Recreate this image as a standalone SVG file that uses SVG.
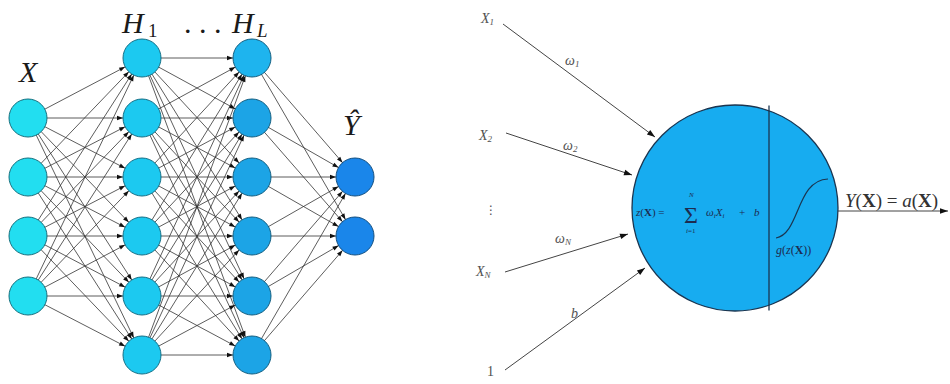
<svg xmlns="http://www.w3.org/2000/svg" width="950" height="384" viewBox="0 0 950 384">
<style>
.e line{stroke:#333;stroke-width:0.8;marker-end:url(#ah)}
.nx{fill:#22def0;stroke:#17707e;stroke-width:1}
.nh1{fill:#1cc9f0;stroke:#156f86;stroke-width:1}
.nhl{fill:#1ca4e6;stroke:#135e80;stroke-width:1}
.no{fill:#1a86ea;stroke:#134f80;stroke-width:1}
.big{font-family:"Liberation Serif","DejaVu Serif",serif;font-style:italic;font-size:30px;fill:#1a1a1a}
.sub{font-family:"Liberation Serif","DejaVu Serif",serif;font-size:19px;fill:#1a1a1a}
.lab{font-family:"Liberation Serif","DejaVu Serif",serif;font-style:italic;font-size:14px;fill:#505050}
.labs{font-family:"Liberation Serif","DejaVu Serif",serif;font-size:9px;fill:#505050}
.m{font-family:"Liberation Serif","DejaVu Serif",serif;font-size:11px;fill:#1d2b4f}
.ar line{stroke:#444;stroke-width:1;marker-end:url(#ar)}
</style>
<defs>
<marker id="ah" markerUnits="userSpaceOnUse" markerWidth="10" markerHeight="10" refX="19" refY="0" orient="auto" overflow="visible">
<path d="M0,0 L-6,-2.2 L-6,2.2 Z" fill="#111"/>
</marker>
<marker id="ar" markerUnits="userSpaceOnUse" markerWidth="10" markerHeight="10" refX="0" refY="0" orient="auto" overflow="visible">
<path d="M0,0 L-8,-2.8 L-8,2.8 Z" fill="#111"/>
</marker>
</defs>
<rect width="950" height="384" fill="#fff"/>
<g id="connectors">
<g class="e">
<line x1="28" y1="118" x2="142" y2="58"/><line x1="28" y1="118" x2="142" y2="118"/><line x1="28" y1="118" x2="142" y2="177"/><line x1="28" y1="118" x2="142" y2="236"/><line x1="28" y1="118" x2="142" y2="296"/><line x1="28" y1="118" x2="142" y2="355"/>
<line x1="28" y1="177" x2="142" y2="58"/><line x1="28" y1="177" x2="142" y2="118"/><line x1="28" y1="177" x2="142" y2="177"/><line x1="28" y1="177" x2="142" y2="236"/><line x1="28" y1="177" x2="142" y2="296"/><line x1="28" y1="177" x2="142" y2="355"/>
<line x1="28" y1="236" x2="142" y2="58"/><line x1="28" y1="236" x2="142" y2="118"/><line x1="28" y1="236" x2="142" y2="177"/><line x1="28" y1="236" x2="142" y2="236"/><line x1="28" y1="236" x2="142" y2="296"/><line x1="28" y1="236" x2="142" y2="355"/>
<line x1="28" y1="296" x2="142" y2="58"/><line x1="28" y1="296" x2="142" y2="118"/><line x1="28" y1="296" x2="142" y2="177"/><line x1="28" y1="296" x2="142" y2="236"/><line x1="28" y1="296" x2="142" y2="296"/><line x1="28" y1="296" x2="142" y2="355"/>
<line x1="142" y1="58" x2="252" y2="58"/><line x1="142" y1="58" x2="252" y2="118"/><line x1="142" y1="58" x2="252" y2="177"/><line x1="142" y1="58" x2="252" y2="236"/><line x1="142" y1="58" x2="252" y2="296"/><line x1="142" y1="58" x2="252" y2="355"/>
<line x1="142" y1="118" x2="252" y2="58"/><line x1="142" y1="118" x2="252" y2="118"/><line x1="142" y1="118" x2="252" y2="177"/><line x1="142" y1="118" x2="252" y2="236"/><line x1="142" y1="118" x2="252" y2="296"/><line x1="142" y1="118" x2="252" y2="355"/>
<line x1="142" y1="177" x2="252" y2="58"/><line x1="142" y1="177" x2="252" y2="118"/><line x1="142" y1="177" x2="252" y2="177"/><line x1="142" y1="177" x2="252" y2="236"/><line x1="142" y1="177" x2="252" y2="296"/><line x1="142" y1="177" x2="252" y2="355"/>
<line x1="142" y1="236" x2="252" y2="58"/><line x1="142" y1="236" x2="252" y2="118"/><line x1="142" y1="236" x2="252" y2="177"/><line x1="142" y1="236" x2="252" y2="236"/><line x1="142" y1="236" x2="252" y2="296"/><line x1="142" y1="236" x2="252" y2="355"/>
<line x1="142" y1="296" x2="252" y2="58"/><line x1="142" y1="296" x2="252" y2="118"/><line x1="142" y1="296" x2="252" y2="177"/><line x1="142" y1="296" x2="252" y2="236"/><line x1="142" y1="296" x2="252" y2="296"/><line x1="142" y1="296" x2="252" y2="355"/>
<line x1="142" y1="355" x2="252" y2="58"/><line x1="142" y1="355" x2="252" y2="118"/><line x1="142" y1="355" x2="252" y2="177"/><line x1="142" y1="355" x2="252" y2="236"/><line x1="142" y1="355" x2="252" y2="296"/><line x1="142" y1="355" x2="252" y2="355"/>
<line x1="252" y1="58" x2="355" y2="177"/><line x1="252" y1="58" x2="355" y2="236"/>
<line x1="252" y1="118" x2="355" y2="177"/><line x1="252" y1="118" x2="355" y2="236"/>
<line x1="252" y1="177" x2="355" y2="177"/><line x1="252" y1="177" x2="355" y2="236"/>
<line x1="252" y1="236" x2="355" y2="177"/><line x1="252" y1="236" x2="355" y2="236"/>
<line x1="252" y1="296" x2="355" y2="177"/><line x1="252" y1="296" x2="355" y2="236"/>
<line x1="252" y1="355" x2="355" y2="177"/><line x1="252" y1="355" x2="355" y2="236"/>
</g>
<g class="ar">
<line x1="503" y1="24" x2="655" y2="137"/>
<line x1="506" y1="133" x2="632" y2="175"/>
<line x1="505" y1="272" x2="628" y2="234"/>
<line x1="505" y1="370" x2="645" y2="268"/>
<line x1="838" y1="211" x2="948" y2="211"/>
</g>
</g>
<g id="input-layer">
<circle class="nx" cx="28" cy="118" r="19"/><circle class="nx" cx="28" cy="177" r="19"/><circle class="nx" cx="28" cy="236" r="19"/><circle class="nx" cx="28" cy="296" r="19"/>
</g>
<g id="hidden-1">
<circle class="nh1" cx="142" cy="58" r="19"/><circle class="nh1" cx="142" cy="118" r="19"/><circle class="nh1" cx="142" cy="177" r="19"/><circle class="nh1" cx="142" cy="236" r="19"/><circle class="nh1" cx="142" cy="296" r="19"/><circle class="nh1" cx="142" cy="355" r="19"/>
</g>
<g id="hidden-L">
<circle class="nhl" cx="252" cy="58" r="19" style="fill:#1eb4ee"/><circle class="nhl" cx="252" cy="118" r="19"/><circle class="nhl" cx="252" cy="177" r="19"/><circle class="nhl" cx="252" cy="236" r="19"/><circle class="nhl" cx="252" cy="296" r="19"/><circle class="nhl" cx="252" cy="355" r="19"/>
</g>
<g id="output-layer">
<circle class="no" cx="355" cy="177" r="19"/><circle class="no" cx="355" cy="236" r="19"/>
</g>
<g id="layer-labels">
<text class="big" x="19" y="82">X</text>
<text class="big" x="122" y="33">H</text><text class="sub" x="148" y="37">1</text>
<text class="big" x="184" y="33" style="font-style:normal">. . .</text>
<text class="big" x="232" y="33">H</text><text class="sub" x="257" y="37" style="font-style:italic">L</text>
<text class="big" x="343" y="135">Ŷ</text>
</g>
<g id="inputs">
<text class="lab" x="481" y="23">X<tspan class="labs" dy="2">1</tspan></text>
<text class="lab" x="479" y="140">X<tspan class="labs" dy="2">2</tspan></text>
<text class="lab" x="485" y="214" style="font-style:normal;font-family:'DejaVu Sans',sans-serif;font-size:12px">⋮</text>
<text class="lab" x="476" y="276">X<tspan class="labs" dy="2" style="font-style:italic">N</tspan></text>
<text class="lab" x="487" y="376" style="font-style:normal">1</text>
<text class="lab" x="565" y="65">ω<tspan class="labs" dy="2">1</tspan></text>
<text class="lab" x="563" y="150">ω<tspan class="labs" dy="2">2</tspan></text>
<text class="lab" x="555" y="243">ω<tspan class="labs" dy="2" style="font-style:italic">N</tspan></text>
<text class="lab" x="571" y="318">b</text>
</g>
<g id="neuron">
<circle cx="735" cy="208" r="103" fill="#17acf0" stroke="#1b3550" stroke-width="1.3"/>
<line x1="769" y1="105.6" x2="769" y2="310.4" stroke="#1b3550" stroke-width="1.3"/>
<text class="m" x="636" y="216"><tspan font-style="italic">z</tspan>(<tspan font-weight="bold">X</tspan>) =</text>
<text class="m" x="684" y="223" style="font-size:24px">Σ</text>
<text class="m" x="689" y="197" style="font-size:7px;font-style:italic">N</text>
<text class="m" x="686" y="233" style="font-size:7px"><tspan font-style="italic">i</tspan>=1</text>
<text class="m" x="706" y="216"><tspan font-style="italic">ω</tspan><tspan font-size="7" font-style="italic" dy="2">i</tspan><tspan font-style="italic" dy="-2">X</tspan><tspan font-size="7" font-style="italic" dy="2">i</tspan></text>
<text class="m" x="739" y="216">+</text>
<text class="m" x="754" y="216" font-style="italic">b</text>
<path d="M776,238 C800,234 796,180 828,179" fill="none" stroke="#1b3550" stroke-width="1.2"/>
<text class="m" x="776" y="254" style="font-size:12px"><tspan font-style="italic">g</tspan>(<tspan font-style="italic">z</tspan>(<tspan font-weight="bold">X</tspan>))</text>
</g>
<g id="output">
<text x="845" y="207" style="font-family:'Liberation Serif','DejaVu Serif',serif;font-size:19px;fill:#333"><tspan font-style="italic">Y</tspan>(<tspan font-weight="bold">X</tspan>) = <tspan font-style="italic">a</tspan>(<tspan font-weight="bold">X</tspan>)</text>
</g>
</svg>
